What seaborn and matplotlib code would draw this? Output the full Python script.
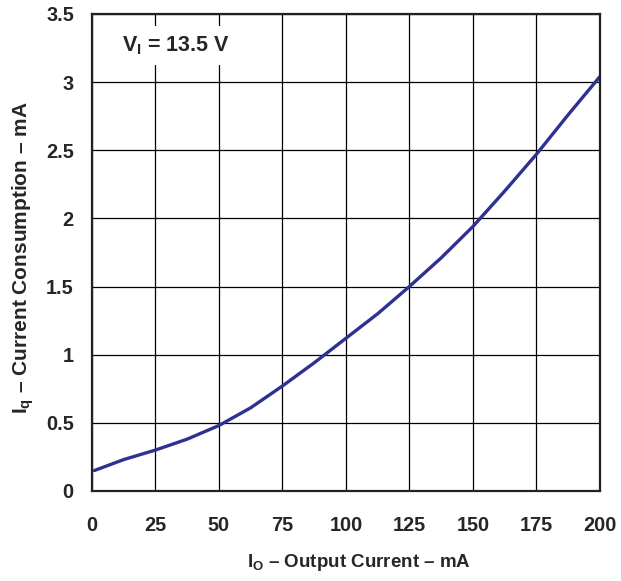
import numpy as np
import pandas as pd
import seaborn as sns
import matplotlib.pyplot as plt

# values
output_current = [1, 12.5, 25, 37.5, 50, 62.5, 75, 87.5, 100, 112.5, 125, 137.5, 150, 162.5, 175, 187.5, 200]
current_consumption = [0.15, 0.23, 0.30, 0.38, 0.48, 0.61, 0.77, 0.94, 1.12, 1.30, 1.50, 1.71, 1.94, 2.20, 2.47, 2.76, 3.04]
x_ticks = [0, 25, 50, 75, 100, 125, 150, 175, 200]
y_ticks = [0, 0.5, 1, 1.5, 2, 2.5, 3, 3.5]
y_tick_labels = ["0", "0.5", "1", "1.5", "2", "2.5", "3", "3.5"]

sns.set_style("white")
plt.rcParams['font.family'] = ['Liberation Sans', 'DejaVu Sans']
plt.rcParams['font.weight'] = 'bold'
plt.rcParams['mathtext.fontset'] = 'custom'
plt.rcParams['mathtext.rm'] = 'Liberation Sans:bold'
plt.rcParams['mathtext.it'] = 'Liberation Sans:bold'
plt.rcParams['mathtext.bf'] = 'Liberation Sans:bold'

df = pd.DataFrame({"io": output_current, "iq": current_consumption})

fig = plt.figure(figsize=(6.21, 5.81), dpi=100)
ax = fig.add_axes([0.148, 0.155, 0.818, 0.821])

sns.lineplot(data=df, x="io", y="iq", ax=ax, color="#2E3192", linewidth=2.4)

ax.set_xlim(0, 200)
ax.set_ylim(0, 3.5)
ax.set_xticks(x_ticks)
ax.set_yticks(y_ticks)
ax.set_yticklabels(y_tick_labels)
ax.grid(True, color="black", linewidth=0.9)
for s in ax.spines.values():
    s.set_color("#222222")
    s.set_linewidth(1.6)
ax.tick_params(axis="x", length=0, labelsize=14.3, pad=18)
ax.tick_params(axis="y", length=0, labelsize=14.3, pad=13)
for lab in ax.get_xticklabels() + ax.get_yticklabels():
    lab.set_fontweight("bold")

ax.set_xlabel(r"I$_\mathrm{O}$ – Output Current – mA", fontsize=13.5, fontweight="bold")
ax.set_ylabel(r"I$_\mathrm{q}$ – Current Consumption – mA", fontsize=15, fontweight="bold")
ax.xaxis.set_label_coords(0.526, -0.128)
ax.yaxis.set_label_coords(-0.110, 0.49)

ax.text(12, 3.27, r"V$_\mathrm{I}$ = 13.5 V", fontsize=15.5, fontweight="bold",
        ha="left", va="center",
        bbox=dict(facecolor="white", edgecolor="none", pad=6))

fig.savefig("out.png", dpi=100)
